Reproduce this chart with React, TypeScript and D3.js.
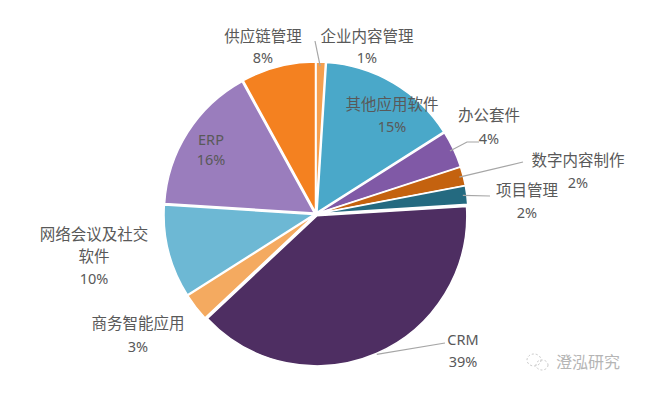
import * as d3 from 'd3';

const categories = ['企业内容管理', '其他应用软件', '办公套件', '数字内容制作', '项目管理', 'CRM', '商务智能应用', '网络会议及社交软件', 'ERP', '供应链管理'];
const shares = [1, 15, 4, 2, 2, 39, 3, 10, 16, 8];
const sliceColors = ['#F5A04F', '#4AA8C9', '#8059A6', '#C4620F', '#246A80', '#4E2E62', '#F4AA60', '#6DB8D4', '#9A7DBD', '#F48120'];
// label lines as displayed (name may wrap)
const labelLines = [
  ['企业内容管理', '1%'],
  ['其他应用软件', '15%'],
  ['办公套件', '4%'],
  ['数字内容制作', '2%'],
  ['项目管理', '2%'],
  ['CRM', '39%'],
  ['商务智能应用', '3%'],
  ['网络会议及社交', '软件', '10%'],
  ['ERP', '16%'],
  ['供应链管理', '8%'],
];

// layout: label centre and leader line path (end points beyond the arc)
const labelLayout: { x: number; y: number; gap: number; leader?: [number, number][] }[] = [
  { x: 367, y: 36, gap: 21, leader: [[315, 41]] },
  { x: 392, y: 104, gap: 22 },
  { x: 489, y: 115, gap: 23, leader: [[467, 142], [479, 142]] },
  { x: 578, y: 160, gap: 22, leader: [[523, 162]] },
  { x: 527, y: 190, gap: 22, leader: [[490, 196]] },
  { x: 463, y: 339, gap: 22, leader: [[445, 343]] },
  { x: 138, y: 323, gap: 23 },
  { x: 94, y: 234, gap: 22 },
  { x: 211, y: 139, gap: 20 },
  { x: 263, y: 36, gap: 21 },
];

const W = 649;
const H = 398;
const cx = 316;
const cy = 214;
const R = 150;
const explode = 2;

export default function App() {
  const pie = d3.pie<number>().sort(null).value(d => d)(shares);
  const arc = d3.arc<d3.PieArcDatum<number>>().innerRadius(0).outerRadius(R);
  const fontStack = '"Noto Sans", "Noto Sans CJK SC", sans-serif';

  return (
    <svg width={W} height={H} style={{ position: 'absolute', left: 0, top: 0, background: '#fff' }}>
      <g transform={`translate(${cx},${cy})`}>
        {pie.map((d, i) => {
          const mid = (d.startAngle + d.endAngle) / 2;
          const dx = Math.sin(mid) * explode;
          const dy = -Math.cos(mid) * explode;
          return (
            <path
              key={categories[i]}
              d={arc(d) ?? ''}
              transform={`translate(${dx},${dy})`}
              fill={sliceColors[i]}
              stroke="#fff"
              strokeWidth={1.5}
              strokeLinejoin="round"
            />
          );
        })}
      </g>
      {pie.map((d, i) => {
        const lay = labelLayout[i];
        if (!lay.leader) return null;
        let mid = (d.startAngle + d.endAngle) / 2;
        if (i === 0) mid = d.startAngle + (d.endAngle - d.startAngle) * 0.45;
        const r0 = i === 5 ? R + 3 : R - 2;
        const start: [number, number] = [cx + Math.sin(mid) * r0, cy - Math.cos(mid) * r0];
        const pts = [start, ...lay.leader];
        return (
          <path
            key={'l' + i}
            d={d3.line()(pts) ?? ''}
            fill="none"
            stroke="#a6a6a6"
            strokeWidth={1.2}
          />
        );
      })}
      {labelLines.map((lines, i) => {
        const lay = labelLayout[i];
        return (
          <text key={'t' + i} textAnchor="middle" fill="#595959" fontFamily={fontStack}>
            {lines.map((s, j) => (
              <tspan
                key={j}
                x={lay.x}
                y={lay.y + j * lay.gap}
                dominantBaseline="central"
                fontSize={/[\u4e00-\u9fff]/.test(s) ? 15.5 : 14.5}
              >
                {s}
              </tspan>
            ))}
          </text>
        );
      })}
      <g transform="translate(537,362)" fill="none" stroke="#c8c8c8" strokeWidth={1} strokeDasharray="2,2">
        <ellipse cx={-3} cy={-2} rx={7} ry={6} />
        <ellipse cx={5} cy={3} rx={6} ry={5} />
      </g>
      <text x={588} y={362} textAnchor="middle" dominantBaseline="central" fill="#b5b5b5" fontSize={16} fontFamily={fontStack}>
        澄泓研究
      </text>
    </svg>
  );
}
